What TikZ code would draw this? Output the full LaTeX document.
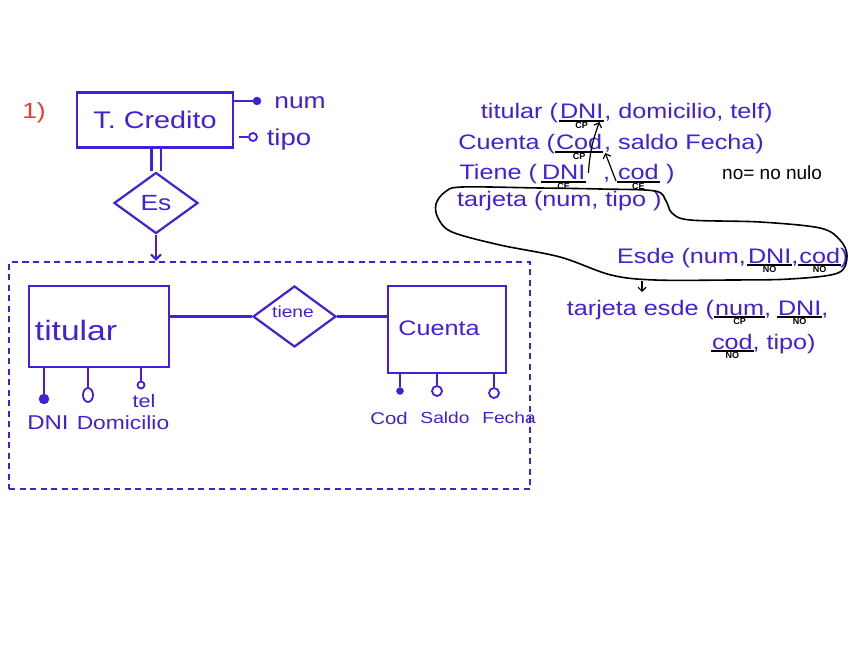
\documentclass[tikz,border=0pt]{standalone}
\usepackage{fontspec}
\setmainfont{Liberation Sans}
\newfontfamily\hand[FakeStretch=1.2]{Liberation Sans}
\usetikzlibrary{shapes.geometric,arrows.meta}
\definecolor{ink}{RGB}{66,32,218}
\definecolor{redink}{RGB}{232,64,40}
\newcommand\fsz[1]{\fontsize{#1}{#1}\selectfont}
% underline a key word node (#1), add label node (#2) with text (#3)
\newcommand\keyu[3]{%
  \draw[uline] ([xshift=-1pt,yshift=-2pt]#1.base west) -- ([xshift=1pt,yshift=-2pt]#1.base east);
  \node[keylab] (#2) at ([yshift=-3.5pt]#1.base) {#3};}
\begin{document}
\begin{tikzpicture}[x=1pt,y=-1pt,
  pen/.style={draw=ink, line width=2.2pt},
  ent/.style={pen, rectangle, inner sep=0pt},
  rel/.style={pen, diamond, inner sep=0pt},
  fdot/.style={circle, draw=ink, fill=ink, inner sep=0pt},
  odot/.style={circle, draw=ink, line width=1.8pt, fill=white, inner sep=0pt},
  lbl/.style={text=ink, inner sep=0pt},
  rt/.style={text=ink, inner sep=0pt, outer sep=0pt, anchor=base west, font=\hand\fsz{21}},
  keylab/.style={text=black, inner sep=0pt, anchor=north, font=\fsz{9}\bfseries},
  uline/.style={draw=black, line width=1.4pt},
  arr/.style={draw=black, line width=1.2pt, -{Straight Barb[length=4pt,width=8pt]}},
  loopline/.style={draw=black, line width=1.6pt},
  grpbox/.style={draw=ink, line width=2.2pt, dash pattern=on 6pt off 4.5pt, rectangle, inner sep=0pt}
]
\useasboundingbox (0,0) rectangle (848,647);
\fill[white] (0,0) rectangle (848,647);

% ---------- left: ER diagram ----------
\node[text=redink, inner sep=0pt, font=\hand\fsz{22}] (one) at (34,113) {1)};

\node[ent, minimum width=156pt, minimum height=55pt, font=\hand\fsz{24}, text=ink] (tc) at (155,120) {T.\ Credito};
\node[fdot, minimum size=8pt] (dnum) at (257,101) {};
\draw[pen] (dnum) -- (dnum -| tc.east);
\node[lbl, font=\hand\fsz{22}] (tnum) at (300,103) {num};
\node[odot, minimum size=8pt] (dtipo) at (253,137) {};
\draw[pen] (dtipo) -- ([xshift=5pt]dtipo -| tc.east);
\node[lbl, font=\hand\fsz{23}] (ttipo) at (289,140) {tipo};

\node[rel, minimum width=84pt, minimum height=61pt, font=\hand\fsz{22}, text=ink] (es) at (156,203) {Es};
\draw[pen, double distance=7pt] (es.north |- tc.south) -- (es.north);

\node[grpbox, minimum width=521pt, minimum height=227pt] (grp) at (269.5,375.5) {};
\draw[pen, -{Straight Barb[length=5pt,width=10pt]}] (es.south) -- (es.south |- grp.north);

\node[ent, minimum width=140pt, minimum height=81pt] (tit) at (99,326.5) {};
\node[lbl, font=\hand\fsz{28}] (tittx) at (76,330) {titular};
\node[rel, minimum width=83pt, minimum height=61pt] (tiene) at (294.5,316.5) {};
\node[lbl, font=\hand\fsz{16}] (tienetx) at (293,312) {tiene};
\node[ent, minimum width=118pt, minimum height=87pt] (cta) at (447,329.5) {};
\node[lbl, font=\hand\fsz{21}] (ctatx) at (439,328) {Cuenta};
\draw[pen] (tiene.west) -- (tiene.west -| tit.east);
\draw[pen] (tiene.east) -- (tiene.east -| cta.west);

% titular attributes
\node[fdot, minimum size=10pt] (adni) at (44,399) {};
\node[odot, ellipse, minimum width=10pt, minimum height=14pt] (adom) at (88,395) {};
\node[odot, minimum size=7pt] (atel) at (141,385) {};
\draw[pen] (adni) -- (adni |- tit.south);
\draw[pen] (adom) -- (adom |- tit.south);
\draw[pen] (atel) -- (atel |- tit.south);
\node[lbl, font=\hand\fsz{20}] (ldni) at (48,423) {DNI};
\node[lbl, font=\hand\fsz{19}] (ldom) at (123,423) {Domicilio};
\node[lbl, font=\hand\fsz{18}] (ltel) at (144,401) {tel};

% cuenta attributes
\node[fdot, minimum size=7pt] (acod) at (400,391) {};
\node[odot, minimum size=10pt] (asal) at (437,391) {};
\node[odot, minimum size=10pt] (afec) at (494,393) {};
\draw[pen] (acod) -- (acod |- cta.south);
\draw[pen] (asal) -- (asal |- cta.south);
\draw[pen] (afec) -- (afec |- cta.south);
\node[lbl, font=\hand\fsz{17}] (lcod) at (389,418) {Cod};
\node[lbl, font=\hand\fsz{16}] (lsal) at (445,418) {Saldo};
\node[lbl, font=\hand\fsz{16}] (lfec) at (509,418) {Fecha};

% ---------- right: relational schema ----------
% line 1
\node[rt] (l1b) at (560,119) {DNI};
\node[rt, anchor=base east] (l1a) at ([xshift=-2pt]l1b.base west) {titular (};
\node[rt] (l1c) at ([xshift=1pt]l1b.base east) {, domicilio, telf)};
\keyu{l1b}{k1}{CP}
% line 2
\node[rt] (l2b) at (556,150) {Cod};
\node[rt, anchor=base east] (l2a) at ([xshift=-1pt]l2b.base west) {Cuenta (};
\node[rt] (l2c) at ([xshift=2pt]l2b.base east) {, saldo Fecha)};
\keyu{l2b}{k2}{CP}
% line 3
\node[rt] (l3b) at (542,180) {DNI};
\node[rt, anchor=base east] (l3a) at ([xshift=-5pt]l3b.base west) {Tiene (};
\node[rt] (l3c) at (603,180) {,};
\node[rt] (l3d) at (618,180) {cod};
\node[rt] (l3e) at (666,180) {)};
\keyu{l3b}{k3}{CE}
\keyu{l3d}{k4}{CE}
\node[inner sep=0pt, anchor=base west, font=\fsz{19}] (nonulo) at (722,180) {no= no nulo};
% line 4
\node[rt] (l4) at (457,207) {tarjeta (num, tipo )};
% Esde
\node[rt] (l5b) at (748,263) {DNI};
\node[rt, anchor=base east] (l5a) at ([xshift=-2pt]l5b.base west) {Esde (num,};
\node[rt] (l5c) at (l5b.base east) {,};
\node[rt] (l5d) at ([xshift=1pt]l5c.base east) {cod};
\node[rt] (l5e) at (l5d.base east) {)};
\keyu{l5b}{k5}{NO}
\keyu{l5d}{k6}{NO}
% tarjeta esde
\node[rt] (l6b) at (715,315) {num};
\node[rt, anchor=base east] (l6a) at ([xshift=-1pt]l6b.base west) {tarjeta esde (};
\node[rt] (l6c) at (l6b.base east) {,};
\node[rt] (l6d) at (778,315) {DNI};
\node[rt] (l6e) at (l6d.base east) {,};
\keyu{l6b}{k7}{CP}
\keyu{l6d}{k8}{NO}
\node[rt] (l7b) at (712,349) {cod};
\node[rt] (l7c) at (l7b.base east) {, tipo)};
\keyu{l7b}{k9}{NO}

% arrows between keys
\coordinate (a1s) at ([xshift=3pt]l3b.east);
\coordinate (a1e) at ([xshift=-4pt,yshift=-3pt]l1b.base east);
\draw[arr] (a1s) to[bend left=8] (a1e);
\coordinate (a2s) at ([xshift=-2pt,yshift=-1pt]l3d.base west);
\coordinate (a2e) at ([xshift=3pt,yshift=-3pt]l2b.base east);
\draw[arr] (a2s) -- (a2e);
\coordinate (a3s) at (642,281);
\coordinate (a3e) at (642,292);
\draw[arr] (a3s) -- (a3e);

% enclosing loop
\draw[loopline] plot[smooth cycle, tension=0.55] coordinates {
  (462,187) (540,188) (600,189) (655,191) (666,201) (672,213) (690,220)
  (760,222) (820,228) (840,240) (847,256) (838,273) (790,279) (731,280)
  (655,280) (611,275) (560,257) (500,245) (452,232) (438,218) (436,204) (445,192)};
\end{tikzpicture}
\end{document}
